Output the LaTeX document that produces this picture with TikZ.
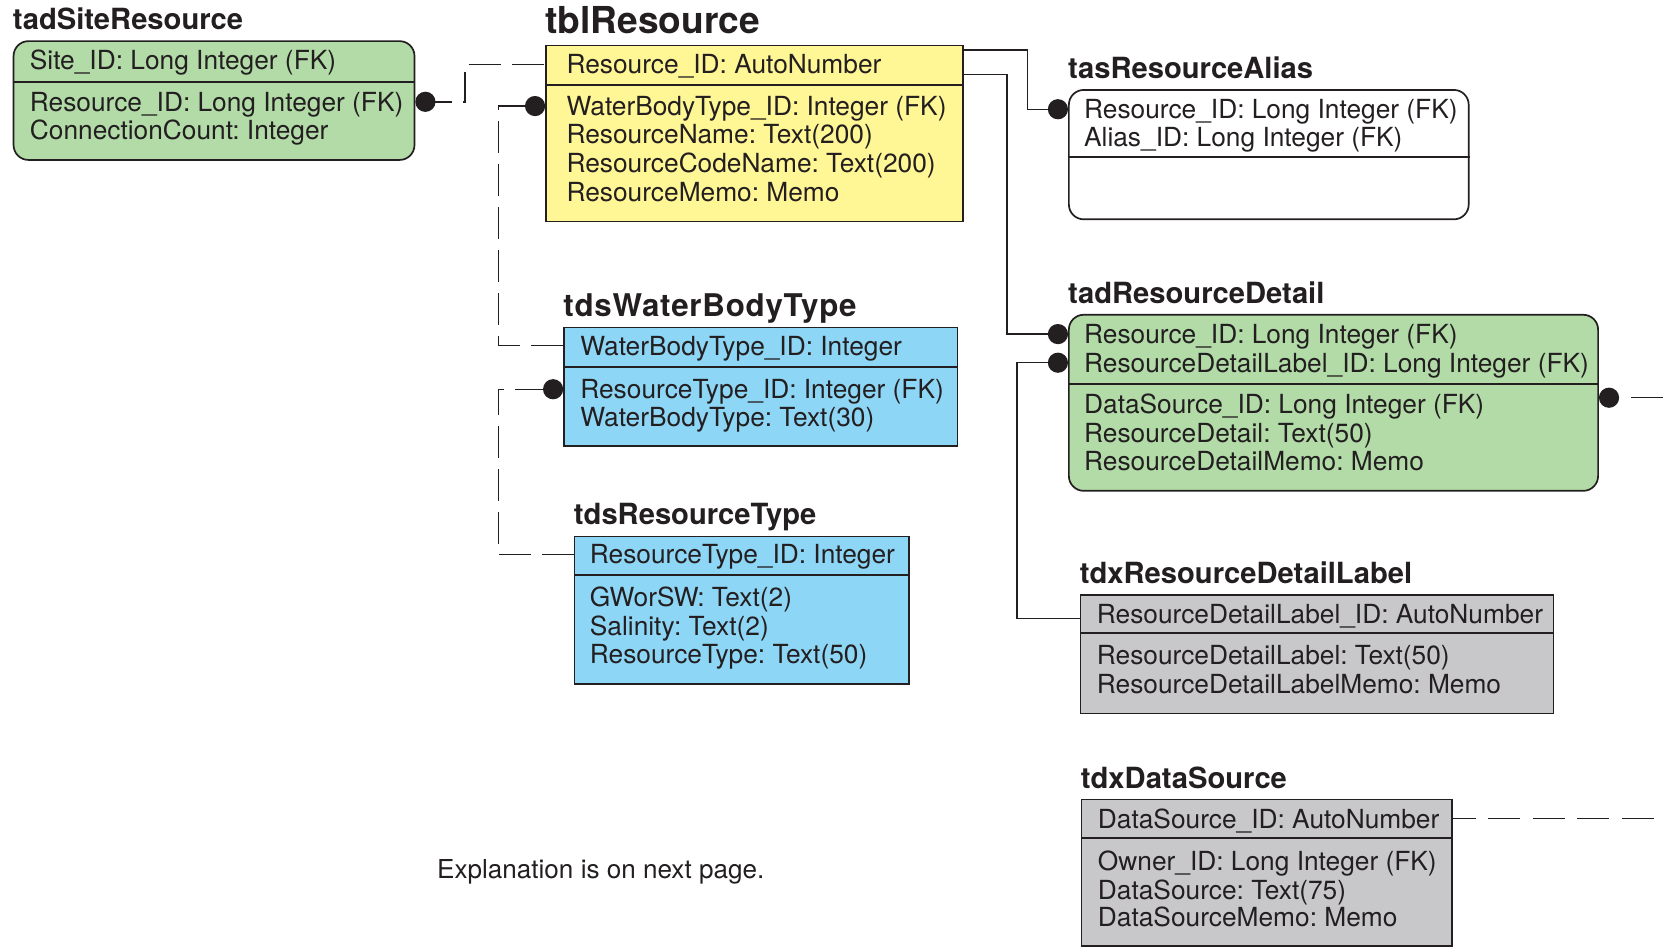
\documentclass[tikz,border=0pt]{standalone}
\usepackage{fontspec}
\setmainfont{TeX Gyre Heros}
\usepackage{xcolor}
\usepackage{tikz}
\usetikzlibrary{arrows.meta,calc}
\definecolor{ink}{RGB}{35,31,32}
\definecolor{tadgreen}{RGB}{178,219,168}
\definecolor{tblyellow}{RGB}{255,246,150}
\definecolor{tdsblue}{RGB}{142,214,246}
\definecolor{tdxgray}{RGB}{200,200,202}
\newcommand{\rowfont}{\fontsize{24.8}{27}\selectfont}
\newcommand{\headfont}{\fontsize{27.5}{30}\selectfont\bfseries}
\newcommand{\bigheadfont}{\fontsize{35}{38}\selectfont\bfseries}
\frenchspacing

\begin{document}
\begin{tikzpicture}[x=1pt,y=1pt]
\tikzstyle{every node}+=[inner sep=0pt, text=ink]
\tikzstyle{tbl}=[draw=ink, line width=1.6pt, anchor=north west]
\tikzstyle{rnd}=[rounded corners=14pt]
\tikzstyle{row}=[anchor=west, font=\rowfont, text height=22.1pt, text depth=4.6pt]
\tikzstyle{head}=[anchor=base west, font=\headfont]
\tikzstyle{rule}=[draw=ink, line width=1.6pt]
\tikzstyle{idlink}=[draw=ink, line width=1.3pt]
\tikzstyle{fklink}=[draw=ink, line width=1.3pt, dash pattern=on 30pt off 10.5pt]
\tikzstyle{dotend}=[-{Circle[length=19pt]}]
\tikzstyle{dotstart}=[{Circle[length=19pt]}-]
\useasboundingbox (0,0) rectangle (1568,-893);
\clip (0,0) rectangle (1568,-893);
\node[tbl, rnd, fill=tadgreen, minimum width=378pt, minimum height=112pt] (site) at (12,-38) {};
\draw[rule] (site.west |- 0,-77) -- (site.east |- 0,-77);
\node[head] (site-title) at ($(site.north west)+(0,10)$) {tadSiteResource};
\node[row] (site-k1) at (28,-57) {Site\_ID: Long Integer (FK)};
\node[row] (site-b1) at (28,-96) {Resource\_ID: Long Integer (FK)};
\node[row] (site-b2) at (28,-123) {ConnectionCount: Integer};
\node[tbl, fill=tblyellow, minimum width=393pt, minimum height=166pt] (res) at (514,-42) {};
\draw[rule] (res.west |- 0,-80) -- (res.east |- 0,-80);
\node[head, font=\bigheadfont] (res-title) at ($(res.north west)+(0,10)$) {tblResource};
\node[row] (res-k1) at (534,-61) {Resource\_ID: AutoNumber};
\node[row] (res-b1) at (534,-100) {WaterBodyType\_ID: Integer (FK)};
\node[row] (res-b2) at (534,-127) {ResourceName: Text(200)};
\node[row] (res-b3) at (534,-154) {ResourceCodeName: Text(200)};
\node[row] (res-b4) at (534,-181) {ResourceMemo: Memo};
\node[tbl, rnd, fill=white, minimum width=377pt, minimum height=122pt] (alias) at (1007,-84) {};
\draw[rule] (alias.west |- 0,-148) -- (alias.east |- 0,-148);
\node[head] (alias-title) at ($(alias.north west)+(0,10)$) {tasResourceAlias};
\node[row] (alias-k1) at (1022,-103) {Resource\_ID: Long Integer (FK)};
\node[row] (alias-k2) at (1022,-129) {Alias\_ID: Long Integer (FK)};
\node[tbl, rnd, fill=tadgreen, minimum width=499pt, minimum height=166pt] (rd) at (1007,-296) {};
\draw[rule] (rd.west |- 0,-362) -- (rd.east |- 0,-362);
\node[head] (rd-title) at ($(rd.north west)+(0,10)$) {tadResourceDetail};
\node[row] (rd-k1) at (1022,-315) {Resource\_ID: Long Integer (FK)};
\node[row] (rd-k2) at (1022,-342) {ResourceDetailLabel\_ID: Long Integer (FK)};
\node[row] (rd-b1) at (1022,-381) {DataSource\_ID: Long Integer (FK)};
\node[row] (rd-b2) at (1022,-408) {ResourceDetail: Text(50)};
\node[row] (rd-b3) at (1022,-435) {ResourceDetailMemo: Memo};
\node[tbl, fill=tdsblue, minimum width=371pt, minimum height=112pt] (wbt) at (531,-308) {};
\draw[rule] (wbt.west |- 0,-346) -- (wbt.east |- 0,-346);
\node[head, font=\fontsize{29.5}{32}\selectfont\bfseries] (wbt-title) at ($(wbt.north west)+(0,10)$) {\addfontfeature{LetterSpace=2.5}tdsWaterBodyType};
\node[row] (wbt-k1) at (547,-326) {WaterBodyType\_ID: Integer};
\node[row] (wbt-b1) at (547,-367) {ResourceType\_ID: Integer (FK)};
\node[row] (wbt-b2) at (547,-393) {WaterBodyType: Text(30)};
\node[tbl, fill=tdsblue, minimum width=315pt, minimum height=139pt] (rt) at (541,-505) {};
\draw[rule] (rt.west |- 0,-542) -- (rt.east |- 0,-542);
\node[head] (rt-title) at ($(rt.north west)+(0,10)$) {tdsResourceType};
\node[row] (rt-k1) at (556,-523) {ResourceType\_ID: Integer};
\node[row] (rt-b1) at (556,-563) {GWorSW: Text(2)};
\node[row] (rt-b2) at (556,-590) {Salinity: Text(2)};
\node[row] (rt-b3) at (556,-617) {ResourceType: Text(50)};
\node[tbl, fill=tdxgray, minimum width=446pt, minimum height=112pt] (rdl) at (1018,-560) {};
\draw[rule] (rdl.west |- 0,-597) -- (rdl.east |- 0,-597);
\node[head] (rdl-title) at ($(rdl.north west)+(0,10)$) {tdxResourceDetailLabel};
\node[row] (rdl-k1) at (1034,-579) {ResourceDetailLabel\_ID: AutoNumber};
\node[row] (rdl-b1) at (1034,-618) {ResourceDetailLabel: Text(50)};
\node[row] (rdl-b2) at (1034,-645) {ResourceDetailLabelMemo: Memo};
\node[tbl, fill=tdxgray, minimum width=349pt, minimum height=138pt] (ds) at (1019,-753) {};
\draw[rule] (ds.west |- 0,-790) -- (ds.east |- 0,-790);
\node[head] (ds-title) at ($(ds.north west)+(0,10)$) {tdxDataSource};
\node[row] (ds-k1) at (1035,-772) {DataSource\_ID: AutoNumber};
\node[row] (ds-b1) at (1035,-812) {Owner\_ID: Long Integer (FK)};
\node[row] (ds-b2) at (1035,-839) {DataSource: Text(75)};
\node[row] (ds-b3) at (1035,-865) {DataSourceMemo: Memo};
\node[row, font=\fontsize{24.6}{26}\selectfont] (note) at (412,-820) {Explanation is on next page.};
\draw[fklink, dotstart, dash phase=14pt] (site.east |- site-b1) -- ++(47,0) |- (res.west |- res-k1);
\draw[fklink, dotend] (wbt.west |- wbt-k1) -- ++(-61,0) |- (res.west |- res-b1);
\draw[fklink, dotend] (rt.west |- rt-k1) -- ++(-71,0) |- (wbt.west |- wbt-b1);
\draw[idlink, dotend] ($(res.east |- res-k1)+(0,14)$) -- ++(60,0) |- (alias.west |- alias-k1);
\draw[idlink, dotend] ($(res.east |- res-k1)+(0,-9)$) -- ++(41,0) |- (rd.west |- rd-k1);
\draw[idlink, dotend] ($(rdl.west |- rdl-k1)+(0,-4)$) -- ++(-59,0) |- (rd.west |- rd-k2);
\draw[fklink, dotstart, dash pattern=on 30pt off 12pt, dash phase=30pt] ($(rd.east |- rd-b1)+(0,6)$) -- ++(94.5,0) |- (ds.east |- ds-k1);
\end{tikzpicture}
\end{document}
